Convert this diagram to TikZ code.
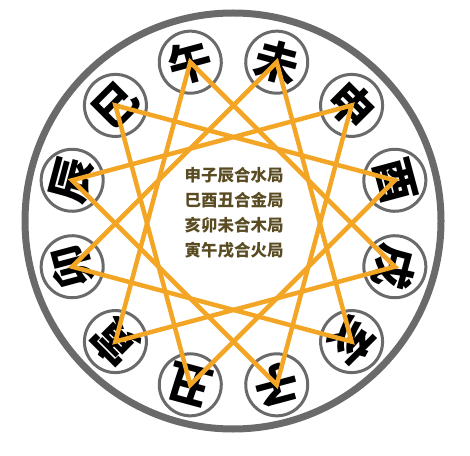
\documentclass[tikz,border=0pt]{standalone}
\usepackage{fontspec}
\newfontfamily\cjk{Noto Sans CJK SC}
\definecolor{RingGray}{HTML}{6A6A6A}
\definecolor{LinkOrange}{HTML}{F3A625}
\definecolor{NoteBrown}{HTML}{5A4C22}

\begin{document}
\begin{tikzpicture}[
                x=1pt, y=1pt,
                Branch/.style={circle, draw=RingGray, line width=3pt, fill=white, minimum size=62pt, inner sep=0pt, font=\cjk\bfseries\fontsize{44}{44}\selectfont},
                Link/.style={draw=LinkOrange, line width=4.5pt},
                Note/.style={align=center, text=NoteBrown, font=\cjk\bfseries\fontsize{16.5}{25}\selectfont},
            ]
            \useasboundingbox (0,0) rectangle (470,455);
            \draw [RingGray, line width=7pt] (233,234) circle (208);
            % twelve branches, top of each glyph pointing outward
            \foreach \name/\zhi/\ang in {wu/午/105, wei/未/75, shen/申/45, you/酉/15, xu/戌/-15, hai/亥/-45,
                                         zi/子/-75, chou/丑/-105, yin/寅/-135, mao/卯/-165, chen/辰/165, si/巳/135}
                \node [Branch, rotate=\ang-90] (\name) at ([shift={(233.5,231.5)}]\ang:167) {\zhi};
            \draw [Link] (shen.center) -- (zi.center) -- (chen.center) -- cycle;
            \draw [Link] (si.center) -- (you.center) -- (chou.center) -- cycle;
            \draw [Link] (hai.center) -- (mao.center) -- (wei.center) -- cycle;
            \draw [Link] (yin.center) -- (wu.center) -- (xu.center) -- cycle;
            \node [Note] (combos) at (234,242.5) {申子辰合水局\\巳酉丑合金局\\亥卯未合木局\\寅午戌合火局};
        \end{tikzpicture}
\end{document}
